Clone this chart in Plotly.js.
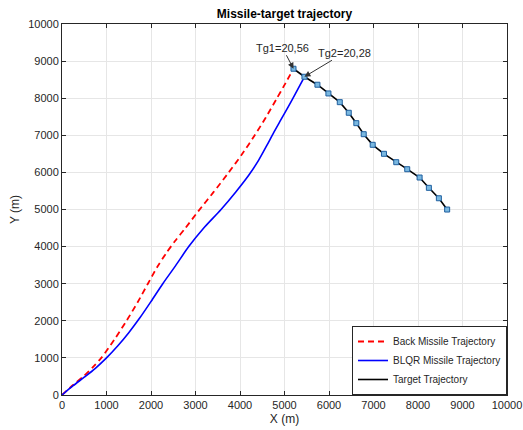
<!DOCTYPE html>
<html>
<head>
<meta charset="utf-8">
<script src="https://cdn.plot.ly/plotly-3.0.1.min.js"></script>
<style>html,body{margin:0;padding:0;background:#fff;}#chart{width:523px;height:430px;}</style>
</head>
<body>
<div id="chart"></div>
<script>
// Back missile trajectory (red dashed)
const backX = [0, 250, 500, 700, 883, 1180, 1450, 1700, 1930, 2140, 2340, 2540, 2760, 3060, 3400, 3740, 4040, 4320, 4580, 4820, 5020, 5202];
const backY = [0, 270, 520, 760, 1000, 1500, 2000, 2500, 3000, 3450, 3820, 4150, 4480, 4950, 5460, 5990, 6480, 6980, 7480, 7980, 8400, 8794];
// BLQR missile trajectory (blue)
const blqrX = [0, 250, 500, 750, 1000, 1250, 1500, 1750, 2000, 2265, 2550, 2848, 3200, 3574, 3910, 4200, 4420, 4600, 4760, 4920, 5080, 5240, 5448];
const blqrY = [0, 250, 480, 720, 1000, 1320, 1680, 2080, 2520, 3000, 3480, 4000, 4520, 5000, 5480, 5930, 6330, 6720, 7080, 7420, 7760, 8110, 8578];
// Target trajectory (black with square markers)
const targetX = [8655, 8469, 8244, 8036, 7758, 7511, 7235, 6982, 6780, 6614, 6444, 6242, 5987, 5740, 5448, 5202];
const targetY = [4999, 5303, 5584, 5862, 6086, 6275, 6501, 6744, 7030, 7327, 7607, 7893, 8128, 8363, 8578, 8794];
// Annotations
const tg1 = {x: 5202, y: 8794, text: 'Tg1=20,56'};
const tg2 = {x: 5448, y: 8578, text: 'Tg2=20,28'};
const tickVals = [0, 1000, 2000, 3000, 4000, 5000, 6000, 7000, 8000, 9000, 10000];
const tickText = ['0', '1000', '2000', '3000', '4000', '5000', '6000', '7000', '8000', '9000', '10000'];

const FONT = 'Liberation Sans, Arial, sans-serif';

const traces = [
  {x: backX, y: backY, mode: 'lines', name: 'Back Missile Trajectory',
   line: {color: '#ff0000', width: 1.8, dash: '6px,4px', shape: 'spline', smoothing: 0.8}},
  {x: blqrX, y: blqrY, mode: 'lines', name: 'BLQR Missile Trajectory',
   line: {color: '#0000ff', width: 1.6, shape: 'spline', smoothing: 0.8}},
  {x: targetX, y: targetY, mode: 'lines', name: 'Target Trajectory',
   line: {color: '#000000', width: 1.6}},
  {x: targetX, y: targetY, mode: 'markers', name: 'Target points', showlegend: false,
   marker: {symbol: 'square', size: 5, color: '#7ab8e0', line: {color: '#1f5f9f', width: 1}}}
];

const axisCommon = {
  range: [0, 10000], tickvals: tickVals, ticktext: tickText,
  showgrid: true, gridcolor: '#e6e6e6', gridwidth: 1,
  zeroline: false, showline: true, linecolor: '#262626', linewidth: 1, mirror: 'ticks',
  ticks: 'inside', ticklen: 4, tickcolor: '#262626',
  tickfont: {family: FONT, size: 11, color: '#262626'}
};

const layout = {
  width: 523, height: 430,
  margin: {l: 62, r: 16, t: 24, b: 35},
  paper_bgcolor: '#ffffff', plot_bgcolor: '#ffffff',
  title: {text: '<b>Missile-target trajectory</b>', x: 0.544, xanchor: 'center', y: 0.968, yanchor: 'middle',
          font: {family: FONT, size: 12, color: '#000'}},
  xaxis: Object.assign({}, axisCommon, {title: {text: 'X (m)', standoff: 4,
          font: {family: FONT, size: 12, color: '#262626'}}}),
  yaxis: Object.assign({}, axisCommon, {title: {text: 'Y (m)', standoff: 6,
          font: {family: FONT, size: 12, color: '#262626'}}}),
  showlegend: true,
  legend: {x: 1, y: 0, xanchor: 'right', yanchor: 'bottom', bgcolor: '#ffffff',
           bordercolor: '#262626', borderwidth: 1, tracegroupgap: 0, itemwidth: 30,
           font: {family: FONT, size: 10, color: '#262626'}},
  annotations: [
    {x: tg1.x, y: tg1.y, xref: 'x', yref: 'y', text: tg1.text, showarrow: true,
     ax: -11, ay: -21, arrowhead: 2, arrowsize: 1.2, arrowwidth: 1, arrowcolor: '#333',
     font: {family: FONT, size: 11, color: '#262626'}},
    {x: tg2.x, y: tg2.y, xref: 'x', yref: 'y', text: tg2.text, showarrow: true,
     ax: 40, ay: -24, arrowhead: 2, arrowsize: 1.2, arrowwidth: 1, arrowcolor: '#333',
     font: {family: FONT, size: 11, color: '#262626'}}
  ]
};

Plotly.newPlot('chart', traces, layout, {displayModeBar: false, staticPlot: true});
</script>
</body>
</html>
